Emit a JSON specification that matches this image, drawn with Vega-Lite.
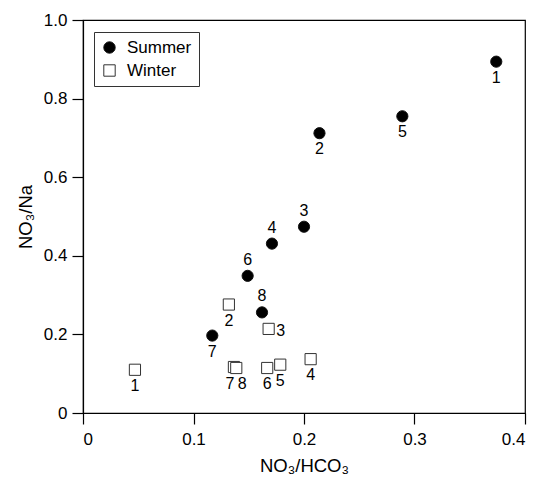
{
  "$schema": "https://vega.github.io/schema/vega-lite/v6.json",
  "width": 442,
  "height": 393,
  "autosize": {"type": "none"},
  "padding": {"left": 83, "top": 20, "right": 15, "bottom": 65},
  "config": {
    "font": "Liberation Sans",
    "view": {"stroke": "black", "strokeWidth": 1.2},
    "axis": {
      "grid": false,
      "domainColor": "black",
      "tickColor": "black",
      "labelColor": "black",
      "titleColor": "black",
      "labelFont": "Liberation Sans",
      "titleFont": "Liberation Sans",
      "labelFontSize": 17,
      "titleFontSize": 18.5,
      "titleFontWeight": "normal",
      "tickSize": 11,
      "domainWidth": 1.2,
      "tickWidth": 1.2
    },
    "legend": {
      "title": null,
      "orient": "none",
      "legendX": 11,
      "legendY": 12,
      "direction": "vertical",
      "strokeColor": "#333",
      "fillColor": "white",
      "padding": 7,
      "labelFontSize": 17,
      "labelFont": "Liberation Sans",
      "labelColor": "black",
      "symbolSize": 130,
      "symbolStrokeColor": "#222",
      "symbolStrokeWidth": 1,
      "rowPadding": 5,
      "labelOffset": 9
    }
  },
  "data": {
    "values": [
      {"season": "Summer", "id": "1", "x": 0.374, "y": 0.894},
      {"season": "Summer", "id": "2", "x": 0.214, "y": 0.712},
      {"season": "Summer", "id": "3", "x": 0.200, "y": 0.474},
      {"season": "Summer", "id": "4", "x": 0.171, "y": 0.431},
      {"season": "Summer", "id": "5", "x": 0.289, "y": 0.755},
      {"season": "Summer", "id": "6", "x": 0.149, "y": 0.349},
      {"season": "Summer", "id": "7", "x": 0.117, "y": 0.197},
      {"season": "Summer", "id": "8", "x": 0.162, "y": 0.256},
      {"season": "Winter", "id": "1", "x": 0.047, "y": 0.110},
      {"season": "Winter", "id": "2", "x": 0.132, "y": 0.276},
      {"season": "Winter", "id": "3", "x": 0.168, "y": 0.214},
      {"season": "Winter", "id": "4", "x": 0.206, "y": 0.137},
      {"season": "Winter", "id": "5", "x": 0.1785, "y": 0.123},
      {"season": "Winter", "id": "6", "x": 0.1667, "y": 0.1145},
      {"season": "Winter", "id": "7", "x": 0.1366, "y": 0.117},
      {"season": "Winter", "id": "8", "x": 0.1387, "y": 0.1145}
    ]
  },
  "encoding": {
    "x": {
      "field": "x", "type": "quantitative",
      "scale": {"domain": [0, 0.4], "nice": false, "zero": false},
      "axis": {
        "title": "NO₃/HCO₃",
        "values": [0, 0.1, 0.2, 0.3, 0.4],
        "labelExpr": "datum.value == 0 ? '0' : format(datum.value, '.1f')",
        "labelPadding": 7,
        "titlePadding": 9
      }
    },
    "y": {
      "field": "y", "type": "quantitative",
      "scale": {"domain": [0, 1], "nice": false, "zero": false},
      "axis": {
        "title": "NO₃/Na",
        "values": [0, 0.2, 0.4, 0.6, 0.8, 1.0],
        "labelExpr": "datum.value == 0 ? '0' : format(datum.value, '.1f')",
        "labelPadding": 5,
        "titlePadding": 8
      }
    }
  },
  "layer": [
    {
      "mark": {"type": "point", "strokeWidth": 1, "opacity": 1},
      "encoding": {
        "fill": {
          "field": "season", "type": "nominal",
          "scale": {"domain": ["Summer", "Winter"], "range": ["black", "white"]}
        },
        "stroke": {
          "field": "season", "type": "nominal",
          "scale": {"domain": ["Summer", "Winter"], "range": ["#111", "#333"]}
        },
        "shape": {
          "field": "season", "type": "nominal",
          "scale": {"domain": ["Summer", "Winter"], "range": ["circle", "square"]}
        },
        "size": {"value": 125}
      }
    },
    {
      "transform": [{"filter": "indexof(['Summer3','Summer4','Summer6','Summer8','Winter3','Winter7','Winter8'], datum.season + datum.id) < 0"}],
      "mark": {"type": "text", "dy": 16, "fontSize": 16, "font": "Liberation Sans", "color": "black", "baseline": "middle", "align": "center"},
      "encoding": {"text": {"field": "id"}}
    },
    {
      "transform": [{"filter": "indexof(['Summer3','Summer4','Summer6','Summer8'], datum.season + datum.id) >= 0"}],
      "mark": {"type": "text", "dy": -16, "fontSize": 16, "font": "Liberation Sans", "color": "black", "baseline": "middle", "align": "center"},
      "encoding": {"text": {"field": "id"}}
    },
    {
      "transform": [{"filter": "datum.season == 'Winter' && datum.id == '3'"}],
      "mark": {"type": "text", "dx": 12, "dy": 2, "fontSize": 16, "font": "Liberation Sans", "color": "black", "baseline": "middle", "align": "center"},
      "encoding": {"text": {"field": "id"}}
    },
    {
      "transform": [{"filter": "datum.season == 'Winter' && datum.id == '7'"}],
      "mark": {"type": "text", "dx": -4, "dy": 17, "fontSize": 16, "font": "Liberation Sans", "color": "black", "baseline": "middle", "align": "center"},
      "encoding": {"text": {"field": "id"}}
    },
    {
      "transform": [{"filter": "datum.season == 'Winter' && datum.id == '8'"}],
      "mark": {"type": "text", "dx": 6, "dy": 16, "fontSize": 16, "font": "Liberation Sans", "color": "black", "baseline": "middle", "align": "center"},
      "encoding": {"text": {"field": "id"}}
    }
  ]
}
